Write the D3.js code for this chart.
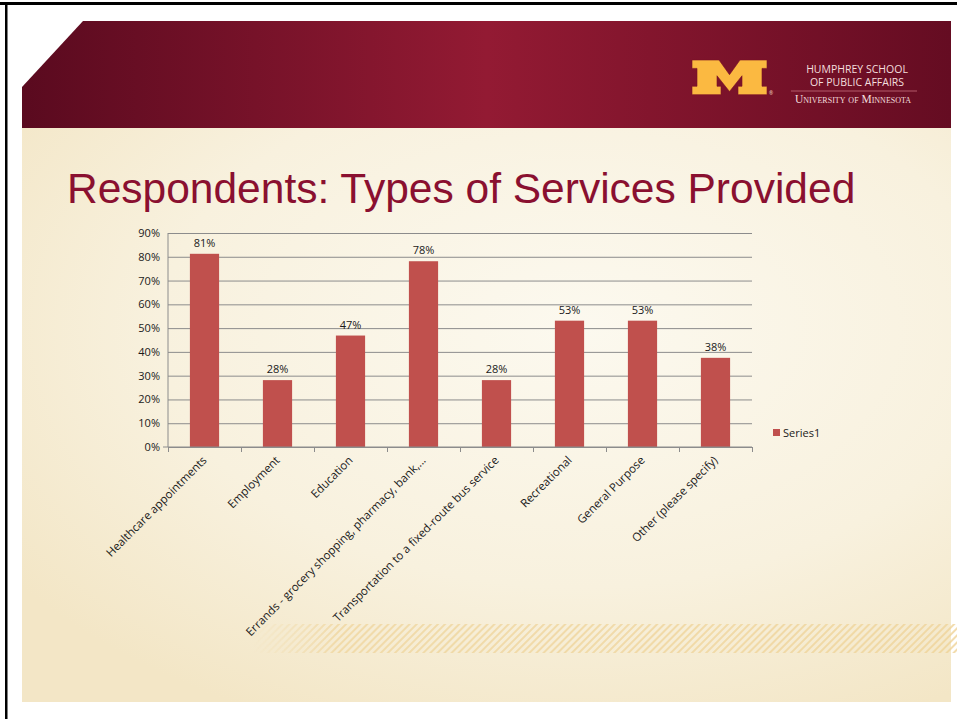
<!DOCTYPE html>
<html>
<head>
<meta charset="utf-8">
<script src="https://cdn.jsdelivr.net/npm/d3@7"></script>
<style>
  body { margin: 0; background: #ffffff; }
  svg { display: block; }
  .axis path, .axis line { stroke: #8c8c8c; }
  .axis text { font-family: "Open Sans", sans-serif; font-size: 11px; fill: #1a1a1a; }
</style>
</head>
<body>
<script>
// chart values
var categories = [
  "Healthcare appointments",
  "Employment",
  "Education",
  "Errands - grocery shopping, pharmacy, bank,...",
  "Transportation to a fixed-route bus service",
  "Recreational",
  "General Purpose",
  "Other (please specify)"
];
var values = [0.8125, 0.28125, 0.46875, 0.78125, 0.28125, 0.53125, 0.53125, 0.375];
var dataLabels = ["81%", "28%", "47%", "78%", "28%", "53%", "53%", "38%"];
var yTicks = [0, 0.1, 0.2, 0.3, 0.4, 0.5, 0.6, 0.7, 0.8, 0.9];
var seriesName = "Series1";
var title = "Respondents: Types of Services Provided";

var W = 957, H = 719;
var svg = d3.select("body").append("svg")
    .attr("width", W)
    .attr("height", H);

var defs = svg.append("defs");

// slide background gradients
var bg = defs.append("radialGradient").attr("id", "bg")
    .attr("cx", "0.6").attr("cy", "0.35").attr("r", "0.75");
bg.append("stop").attr("offset", "0%").attr("stop-color", "#fcf9ef");
bg.append("stop").attr("offset", "60%").attr("stop-color", "#f8f1de");
bg.append("stop").attr("offset", "100%").attr("stop-color", "#f3e6c6");

var hdr = defs.append("linearGradient").attr("id", "hdr")
    .attr("x1", "0").attr("x2", "1").attr("y1", "0").attr("y2", "0");
hdr.append("stop").attr("offset", "0%").attr("stop-color", "#5a0a1f");
hdr.append("stop").attr("offset", "50%").attr("stop-color", "#931a33");
hdr.append("stop").attr("offset", "100%").attr("stop-color", "#650c22");

var hatch = defs.append("pattern").attr("id", "hatch")
    .attr("patternUnits", "userSpaceOnUse")
    .attr("width", 5).attr("height", 5)
    .attr("patternTransform", "rotate(45)");
hatch.append("rect").attr("width", 2).attr("height", 5).attr("fill", "#efd49a");

var fade = defs.append("linearGradient").attr("id", "fade")
    .attr("x1", "0").attr("x2", "1");
fade.append("stop").attr("offset", "0%").attr("stop-color", "#fff").attr("stop-opacity", 0);
fade.append("stop").attr("offset", "12%").attr("stop-color", "#fff").attr("stop-opacity", 0.9);
fade.append("stop").attr("offset", "100%").attr("stop-color", "#fff").attr("stop-opacity", 1);
defs.append("mask").attr("id", "fademask")
  .append("rect").attr("x", 253).attr("y", 624).attr("width", 704).attr("height", 29)
    .attr("fill", "url(#fade)");

// slide frame
svg.append("rect").attr("x", 22).attr("y", 128).attr("width", 929).attr("height", 574)
    .attr("fill", "url(#bg)");
svg.append("rect").attr("x", 253).attr("y", 624).attr("width", 704).attr("height", 29)
    .attr("fill", "url(#hatch)").attr("mask", "url(#fademask)").attr("opacity", 0.8);

svg.append("path")
    .attr("d", "M83,21 L951,21 L951,128 L22,128 L22,87 Z")
    .attr("fill", "url(#hdr)");

svg.append("rect").attr("x", 0).attr("y", 2).attr("width", W).attr("height", 3).attr("fill", "#000");
svg.append("rect").attr("x", 5).attr("y", 2).attr("width", 2.5).attr("height", H).attr("fill", "#000");

// university logo
var logo = svg.append("g").attr("transform", "translate(692,60) scale(1,1.05)");
logo.append("path")
    .attr("d", "M0,0 L27,0 L37.5,14 L48,0 L75,0 L75,8 L70,8 L70,25 L75,25 L75,33 L46,33 L46,25 L50,25 L50,15 L37.5,30 L25,15 L25,25 L29,25 L29,33 L0,33 L0,25 L5,25 L5,8 L0,8 Z")
    .attr("fill", "#fbb941")
    .attr("stroke", "#7a1025").attr("stroke-width", 0.6);
logo.append("text").attr("x", 77).attr("y", 33)
    .style("font-family", "Open Sans").style("font-size", "5px").style("fill", "#f5d9c0").text("®");

var logoText = svg.append("g").style("font-family", "Open Sans, sans-serif").style("fill", "#f3dede");
logoText.append("text").attr("x", 857).attr("y", 73).attr("text-anchor", "middle")
    .style("font-size", "10.5px").text("HUMPHREY SCHOOL");
logoText.append("text").attr("x", 857).attr("y", 86).attr("text-anchor", "middle")
    .style("font-size", "10.5px").text("OF PUBLIC AFFAIRS");
svg.append("line").attr("x1", 791).attr("x2", 917).attr("y1", 91).attr("y2", 91)
    .attr("stroke", "#b45a6a").attr("stroke-width", 1);
logoText.append("text").attr("x", 853).attr("y", 103).attr("text-anchor", "middle")
    .style("font-family", "Liberation Serif, serif").style("font-size", "11.5px")
    .style("font-variant", "small-caps")
    .text("University of Minnesota");

// title
svg.append("text")
    .attr("x", 67).attr("y", 203)
    .style("font-family", "Liberation Sans, Arial, sans-serif")
    .style("font-size", "42.5px")
    .style("fill", "#8a1030")
    .text(title);

// chart area
var plotLeft = 168, plotRight = 752, plotTop = 233, plotBottom = 447;

var x = d3.scaleBand()
    .domain(categories)
    .range([plotLeft, plotRight])
    .paddingInner(0.6)
    .paddingOuter(0.3);

var xb = d3.scaleLinear().domain([0, categories.length]).range([plotLeft, plotRight]);

var y = d3.scaleLinear()
    .domain([0, 0.9])
    .range([plotBottom, plotTop]);

// gridlines
svg.append("g")
    .attr("class", "axis grid")
    .attr("transform", "translate(" + plotLeft + ",0)")
    .call(d3.axisLeft(y).tickValues(yTicks).tickSize(-(plotRight - plotLeft)).tickFormat(""))
    .call(function(g) { g.select(".domain").remove(); });

// y axis
svg.append("g")
    .attr("class", "axis y")
    .attr("transform", "translate(" + plotLeft + ",0)")
    .call(d3.axisLeft(y).tickValues(yTicks).tickSize(0).tickPadding(8).tickFormat(d3.format(".0%")))
    .call(function(g) { g.select(".domain").attr("d", "M0," + plotTop + "V" + plotBottom); });

// bars
svg.append("g").selectAll("rect")
    .data(values)
    .join("rect")
    .attr("x", function(d, i) { return x(categories[i]); })
    .attr("y", function(d) { return y(d); })
    .attr("width", x.bandwidth())
    .attr("height", function(d) { return y(0) - y(d); })
    .attr("fill", "#c0504d");

// x axis with boundary ticks
svg.append("g")
    .attr("class", "axis x")
    .attr("transform", "translate(0," + plotBottom + ")")
    .call(d3.axisBottom(xb).ticks(categories.length).tickSize(5).tickFormat(""))
    .call(function(g) { g.select(".domain").attr("d", "M" + (plotLeft - 5) + ",0H" + plotRight); });

// data labels
svg.append("g").selectAll("text")
    .data(values)
    .join("text")
    .attr("x", function(d, i) { return x(categories[i]) + x.bandwidth() / 2; })
    .attr("y", function(d) { return y(d) - 7; })
    .attr("text-anchor", "middle")
    .style("font-family", "Open Sans, sans-serif")
    .style("font-size", "11px")
    .style("fill", "#1a1a1a")
    .text(function(d, i) { return dataLabels[i]; });

// rotated category labels
svg.append("g").selectAll("text")
    .data(categories)
    .join("text")
    .attr("transform", function(d) {
      return "translate(" + (x(d) + x.bandwidth() / 2 + 3) + "," + (plotBottom + 14) + ") rotate(-45)";
    })
    .attr("text-anchor", "end")
    .style("font-family", "Open Sans, sans-serif")
    .style("font-size", "11.5px")
    .style("fill", "#1a1a1a")
    .text(function(d) { return d; });

// legend
var legend = svg.append("g").attr("transform", "translate(773,429)");
legend.append("rect").attr("width", 7).attr("height", 7).attr("fill", "#c0504d");
legend.append("text").attr("x", 10).attr("y", 7.5)
    .style("font-family", "Open Sans, sans-serif")
    .style("font-size", "11px")
    .style("fill", "#1a1a1a")
    .text(seriesName);
</script>
</body>
</html>
